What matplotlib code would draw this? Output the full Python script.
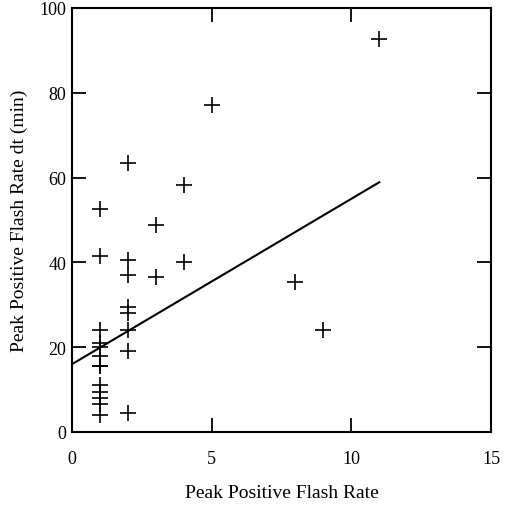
import matplotlib
matplotlib.use("Agg")
import matplotlib.pyplot as plt
import numpy as np

# data
flash_rate = [1]*13 + [2]*8 + [3, 3, 4, 4, 5, 8, 9, 11]
dt_min = [52.5, 41.5, 24, 21, 20, 18, 15.5, 15.5, 11, 9.5, 8, 6.5, 4,
          63.5, 40.5, 37, 29.5, 28, 24, 19, 4.5,
          48.8, 36.5, 58.3, 40.0, 77.1, 35.4, 24.1, 92.8]
fit_intercept = 16.0
fit_slope = 3.9
fit_x = [0, 11]

plt.rcParams['font.family'] = ['Liberation Serif', 'DejaVu Serif']

fig = plt.figure(figsize=(5.07, 5.06), dpi=100)
ax = fig.add_axes([72/507, 1-433/506, 419/507, 424/506])

ax.plot(flash_rate, dt_min, linestyle='none', marker='+', color='black',
        markersize=11, markeredgewidth=1.2)
fx = np.array(fit_x, dtype=float)
ax.plot(fx, fit_intercept + fit_slope*fx, color='black', linewidth=1.5)

ax.set_xlim(0, 15)
ax.set_ylim(0, 100)
ax.set_xticks([0, 5, 10, 15])
ax.set_yticks([0, 20, 40, 60, 80, 100])
ax.tick_params(direction='in', length=10, width=1.3, top=True, right=True,
               labelsize=13)
ax.tick_params(axis='x', pad=13)
ax.tick_params(axis='y', pad=4)
for s in ax.spines.values():
    s.set_linewidth(1.5)

ax.set_xlabel('Peak Positive Flash Rate', fontsize=14, labelpad=12)
ax.set_ylabel('Peak Positive Flash Rate dt (min)', fontsize=14, labelpad=8)

fig.savefig('out.png', dpi=100)
